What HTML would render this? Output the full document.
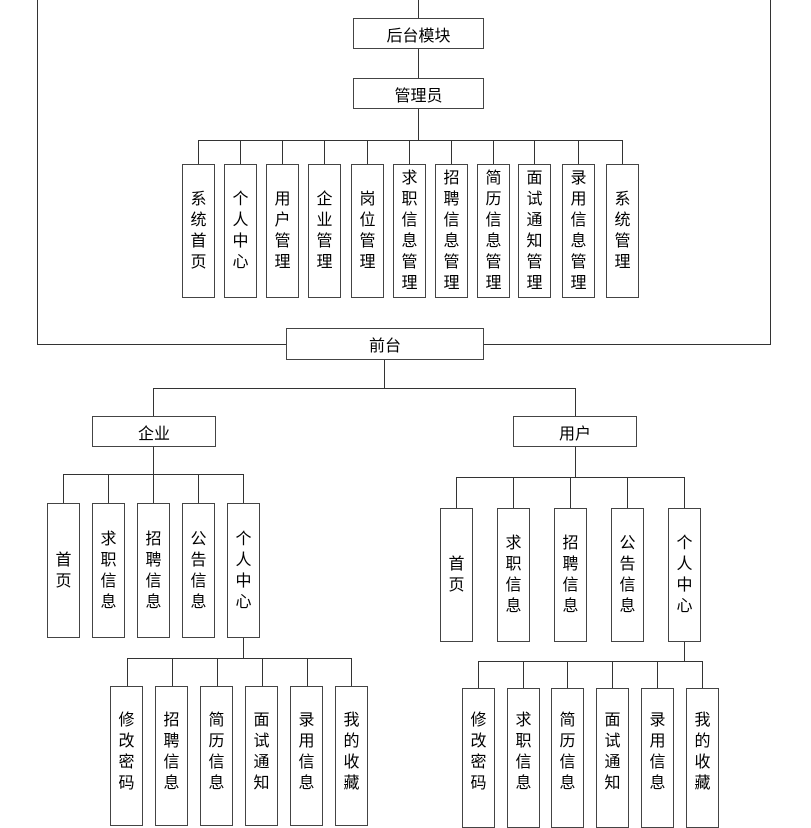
<!DOCTYPE html>
<html><head><meta charset="utf-8"><style>
body{margin:0;width:811px;height:818px;overflow:hidden;background:#fff;position:relative;font-family:"Liberation Sans","Noto Sans CJK SC",sans-serif;color:#000}
.l{position:absolute;background:#333}
.b{position:absolute;box-sizing:border-box;border:1.5px solid #444;background:#fff;display:flex;align-items:center;justify-content:center;font-size:16px}
.v{width:33px;flex-direction:column;font-size:16px;line-height:21px;text-align:center}
.v span{display:block}
</style></head><body>
<!-- frame -->
<div class="l" style="left:37px;top:0;width:1px;height:345px"></div>
<div class="l" style="left:770px;top:0;width:1px;height:345px"></div>
<div class="l" style="left:37px;top:344px;width:734px;height:1px"></div>
<div class="l" style="left:418px;top:0;width:1px;height:140px"></div>
<div class="b" style="left:353px;top:18px;width:131px;height:31px">后台模块</div>
<div class="b" style="left:353px;top:78px;width:131px;height:31px">管理员</div>
<div class="l" style="left:198px;top:140px;width:425px;height:1px"></div>
<div class="l" style="left:198px;top:140px;width:1px;height:24px"></div>
<div class="l" style="left:240px;top:140px;width:1px;height:24px"></div>
<div class="l" style="left:282px;top:140px;width:1px;height:24px"></div>
<div class="l" style="left:324px;top:140px;width:1px;height:24px"></div>
<div class="l" style="left:367px;top:140px;width:1px;height:24px"></div>
<div class="l" style="left:409px;top:140px;width:1px;height:24px"></div>
<div class="l" style="left:451px;top:140px;width:1px;height:24px"></div>
<div class="l" style="left:493px;top:140px;width:1px;height:24px"></div>
<div class="l" style="left:534px;top:140px;width:1px;height:24px"></div>
<div class="l" style="left:578px;top:140px;width:1px;height:24px"></div>
<div class="l" style="left:622px;top:140px;width:1px;height:24px"></div>
<div class="b v" style="left:182px;top:164px;height:134px"><span>系</span><span>统</span><span>首</span><span>页</span></div>
<div class="b v" style="left:224px;top:164px;height:134px"><span>个</span><span>人</span><span>中</span><span>心</span></div>
<div class="b v" style="left:266px;top:164px;height:134px"><span>用</span><span>户</span><span>管</span><span>理</span></div>
<div class="b v" style="left:308px;top:164px;height:134px"><span>企</span><span>业</span><span>管</span><span>理</span></div>
<div class="b v" style="left:351px;top:164px;height:134px"><span>岗</span><span>位</span><span>管</span><span>理</span></div>
<div class="b v" style="left:393px;top:164px;height:134px"><span>求</span><span>职</span><span>信</span><span>息</span><span>管</span><span>理</span></div>
<div class="b v" style="left:435px;top:164px;height:134px"><span>招</span><span>聘</span><span>信</span><span>息</span><span>管</span><span>理</span></div>
<div class="b v" style="left:477px;top:164px;height:134px"><span>简</span><span>历</span><span>信</span><span>息</span><span>管</span><span>理</span></div>
<div class="b v" style="left:518px;top:164px;height:134px"><span>面</span><span>试</span><span>通</span><span>知</span><span>管</span><span>理</span></div>
<div class="b v" style="left:562px;top:164px;height:134px"><span>录</span><span>用</span><span>信</span><span>息</span><span>管</span><span>理</span></div>
<div class="b v" style="left:606px;top:164px;height:134px"><span>系</span><span>统</span><span>管</span><span>理</span></div>
<!-- front -->
<div class="b" style="left:286px;top:328px;width:198px;height:32px">前台</div>
<div class="l" style="left:384px;top:360px;width:1px;height:28px"></div>
<div class="l" style="left:153px;top:388px;width:423px;height:1px"></div>
<div class="l" style="left:153px;top:388px;width:1px;height:28px"></div>
<div class="l" style="left:575px;top:388px;width:1px;height:28px"></div>
<div class="b" style="left:92px;top:416px;width:124px;height:31px">企业</div>
<div class="b" style="left:513px;top:416px;width:124px;height:31px">用户</div>
<!-- enterprise -->
<div class="l" style="left:153px;top:447px;width:1px;height:28px"></div>
<div class="l" style="left:63px;top:474px;width:181px;height:1px"></div>
<div class="l" style="left:63px;top:474px;width:1px;height:29px"></div>
<div class="l" style="left:108px;top:474px;width:1px;height:29px"></div>
<div class="l" style="left:153px;top:474px;width:1px;height:29px"></div>
<div class="l" style="left:198px;top:474px;width:1px;height:29px"></div>
<div class="l" style="left:243px;top:474px;width:1px;height:29px"></div>
<div class="b v" style="left:47px;top:503px;height:135px"><span>首</span><span>页</span></div>
<div class="b v" style="left:92px;top:503px;height:135px"><span>求</span><span>职</span><span>信</span><span>息</span></div>
<div class="b v" style="left:137px;top:503px;height:135px"><span>招</span><span>聘</span><span>信</span><span>息</span></div>
<div class="b v" style="left:182px;top:503px;height:135px"><span>公</span><span>告</span><span>信</span><span>息</span></div>
<div class="b v" style="left:227px;top:503px;height:135px"><span>个</span><span>人</span><span>中</span><span>心</span></div>
<div class="l" style="left:243px;top:638px;width:1px;height:21px"></div>
<div class="l" style="left:127px;top:658px;width:225px;height:1px"></div>
<div class="l" style="left:127px;top:658px;width:1px;height:28px"></div>
<div class="l" style="left:172px;top:658px;width:1px;height:28px"></div>
<div class="l" style="left:217px;top:658px;width:1px;height:28px"></div>
<div class="l" style="left:262px;top:658px;width:1px;height:28px"></div>
<div class="l" style="left:307px;top:658px;width:1px;height:28px"></div>
<div class="l" style="left:351px;top:658px;width:1px;height:28px"></div>
<div class="b v" style="left:110px;top:686px;height:140px;padding-bottom:8px"><span>修</span><span>改</span><span>密</span><span>码</span></div>
<div class="b v" style="left:155px;top:686px;height:140px;padding-bottom:8px"><span>招</span><span>聘</span><span>信</span><span>息</span></div>
<div class="b v" style="left:200px;top:686px;height:140px;padding-bottom:8px"><span>简</span><span>历</span><span>信</span><span>息</span></div>
<div class="b v" style="left:245px;top:686px;height:140px;padding-bottom:8px"><span>面</span><span>试</span><span>通</span><span>知</span></div>
<div class="b v" style="left:290px;top:686px;height:140px;padding-bottom:8px"><span>录</span><span>用</span><span>信</span><span>息</span></div>
<div class="b v" style="left:335px;top:686px;height:140px;padding-bottom:8px"><span>我</span><span>的</span><span>收</span><span>藏</span></div>
<!-- user -->
<div class="l" style="left:575px;top:447px;width:1px;height:30px"></div>
<div class="l" style="left:456px;top:477px;width:229px;height:1px"></div>
<div class="l" style="left:456px;top:477px;width:1px;height:31px"></div>
<div class="l" style="left:513px;top:477px;width:1px;height:31px"></div>
<div class="l" style="left:570px;top:477px;width:1px;height:31px"></div>
<div class="l" style="left:627px;top:477px;width:1px;height:31px"></div>
<div class="l" style="left:684px;top:477px;width:1px;height:31px"></div>
<div class="b v" style="left:440px;top:508px;height:134px"><span>首</span><span>页</span></div>
<div class="b v" style="left:497px;top:508px;height:134px"><span>求</span><span>职</span><span>信</span><span>息</span></div>
<div class="b v" style="left:554px;top:508px;height:134px"><span>招</span><span>聘</span><span>信</span><span>息</span></div>
<div class="b v" style="left:611px;top:508px;height:134px"><span>公</span><span>告</span><span>信</span><span>息</span></div>
<div class="b v" style="left:668px;top:508px;height:134px"><span>个</span><span>人</span><span>中</span><span>心</span></div>
<div class="l" style="left:684px;top:642px;width:1px;height:19px"></div>
<div class="l" style="left:478px;top:661px;width:225px;height:1px"></div>
<div class="l" style="left:478px;top:661px;width:1px;height:27px"></div>
<div class="l" style="left:523px;top:661px;width:1px;height:27px"></div>
<div class="l" style="left:567px;top:661px;width:1px;height:27px"></div>
<div class="l" style="left:612px;top:661px;width:1px;height:27px"></div>
<div class="l" style="left:657px;top:661px;width:1px;height:27px"></div>
<div class="l" style="left:702px;top:661px;width:1px;height:27px"></div>
<div class="b v" style="left:462px;top:688px;height:140px;padding-bottom:12px"><span>修</span><span>改</span><span>密</span><span>码</span></div>
<div class="b v" style="left:507px;top:688px;height:140px;padding-bottom:12px"><span>求</span><span>职</span><span>信</span><span>息</span></div>
<div class="b v" style="left:551px;top:688px;height:140px;padding-bottom:12px"><span>简</span><span>历</span><span>信</span><span>息</span></div>
<div class="b v" style="left:596px;top:688px;height:140px;padding-bottom:12px"><span>面</span><span>试</span><span>通</span><span>知</span></div>
<div class="b v" style="left:641px;top:688px;height:140px;padding-bottom:12px"><span>录</span><span>用</span><span>信</span><span>息</span></div>
<div class="b v" style="left:686px;top:688px;height:140px;padding-bottom:12px"><span>我</span><span>的</span><span>收</span><span>藏</span></div>
</body></html>
